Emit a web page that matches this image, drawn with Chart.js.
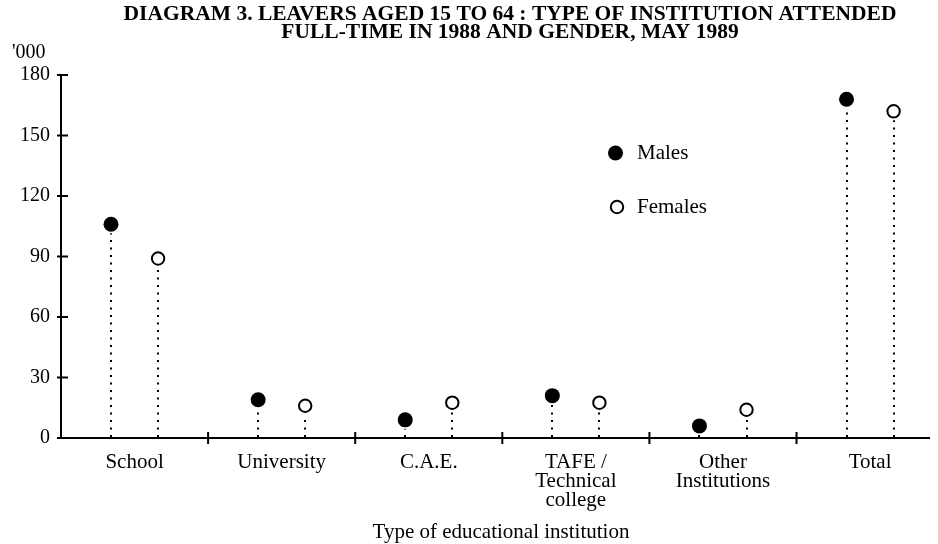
<!DOCTYPE html>
<html>
<head>
<meta charset="utf-8">
<script src="https://cdn.jsdelivr.net/npm/chart.js@4.4.1/dist/chart.umd.min.js"></script>
<style>
    html, body { margin: 0; padding: 0; background: #fff; }
    #wrap { width: 938px; height: 544px; }
</style>
</head>
<body>
<div id="wrap"><canvas id="leaversChart" width="938" height="544"></canvas></div>
<script>
// ============================ data ==============================
const categories = [
    ['School'],
    ['University'],
    ['C.A.E.'],
    ['TAFE /', 'Technical', 'college'],
    ['Other', 'Institutions'],
    ['Total']
];
const males = [106, 19, 9, 21, 6, 168];
const females = [89, 16, 17.5, 17.5, 14, 162];
const yTicks = [0, 30, 60, 90, 120, 150, 180];

// layout constants
const maleOffset = 0.34;
const femaleOffset = 0.66;
const xMax = 5.906;
const serif = '"Liberation Serif", "DejaVu Serif", serif';

// ============================ plugins ==============================
// dotted stems from each point down to zero
const stemPlugin = {
    id: 'stems',
    beforeDatasetsDraw(chart) {
        const ctx = chart.ctx;
        const x = chart.scales.x, y = chart.scales.y;
        const y0 = y.getPixelForValue(0);
        ctx.save();
        ctx.strokeStyle = '#000';
        ctx.lineWidth = 2;
        ctx.setLineDash([2, 5.5]);
        chart.data.datasets.forEach(ds => {
            ds.data.forEach(p => {
                const px = Math.round(x.getPixelForValue(p.x));
                const py = y.getPixelForValue(p.y) + 9;
                if (py >= y0) return;
                ctx.beginPath();
                ctx.moveTo(px, y0 - 1);
                ctx.lineTo(px, py);
                ctx.stroke();
            });
        });
        ctx.restore();
    }
};

// axis tick marks crossing the lines, title, legend and captions
const decorPlugin = {
    id: 'decor',
    afterDraw(chart) {
        const ctx = chart.ctx;
        const x = chart.scales.x, y = chart.scales.y;
        const area = chart.chartArea;
        const y0 = y.getPixelForValue(0);
        ctx.save();
        ctx.strokeStyle = '#000';
        ctx.lineWidth = 2;
        // y ticks
        yTicks.forEach(v => {
            const py = y.getPixelForValue(v);
            ctx.beginPath();
            ctx.moveTo(area.left - 4, py);
            ctx.lineTo(area.left + 7, py);
            ctx.stroke();
        });
        // category boundary ticks
        for (let i = 1; i < categories.length; i++) {
            const px = x.getPixelForValue(i);
            ctx.beginPath();
            ctx.moveTo(px, y0 - 6);
            ctx.lineTo(px, y0 + 6);
            ctx.stroke();
        }

        ctx.fillStyle = '#000';
        ctx.textBaseline = 'middle';
        // title
        ctx.textAlign = 'center';
        ctx.font = 'bold 21.5px ' + serif;
        ctx.fillText('DIAGRAM 3. LEAVERS AGED 15 TO 64 : TYPE OF INSTITUTION ATTENDED', 510, 14);
        ctx.fillText('FULL-TIME IN 1988 AND GENDER, MAY 1989', 510, 32);
        // unit
        ctx.textAlign = 'left';
        ctx.font = '20px ' + serif;
        ctx.fillText("'000", 12, 53);
        // x title
        ctx.textAlign = 'center';
        ctx.font = '21px ' + serif;
        ctx.fillText('Type of educational institution', 501, 532);

        // legend
        ctx.beginPath();
        ctx.arc(615.5, 153, 7.5, 0, Math.PI * 2);
        ctx.fill();
        ctx.beginPath();
        ctx.arc(617, 207, 6.2, 0, Math.PI * 2);
        ctx.fillStyle = '#fff';
        ctx.fill();
        ctx.stroke();
        ctx.fillStyle = '#000';
        ctx.textAlign = 'left';
        ctx.font = '21px ' + serif;
        ctx.fillText('Males', 637, 153);
        ctx.fillText('Females', 637, 207);
        ctx.restore();
    }
};

// ============================ chart ==============================
document.addEventListener('DOMContentLoaded', function () {
    const ctx = document.getElementById('leaversChart').getContext('2d');
    new Chart(ctx, {
        type: 'scatter',
        data: {
            datasets: [
                {
                    label: 'Males',
                    data: males.map((v, i) => ({x: i + maleOffset, y: v})),
                    backgroundColor: '#000',
                    borderColor: '#000',
                    borderWidth: 0,
                    pointRadius: 7.5
                },
                {
                    label: 'Females',
                    data: females.map((v, i) => ({x: i + femaleOffset, y: v})),
                    backgroundColor: '#fff',
                    borderColor: '#000',
                    borderWidth: 2,
                    pointRadius: 6.2
                }
            ]
        },
        options: {
            responsive: false,
            animation: false,
            layout: {padding: {top: 75, right: 0, bottom: 0, left: 0}},
            plugins: {
                legend: {display: false},
                title: {display: false},
                tooltip: {enabled: false}
            },
            scales: {
                x: {
                    type: 'linear',
                    min: 0,
                    max: xMax,
                    afterBuildTicks: scale => {
                        scale.ticks = categories.map((c, i) => ({value: i + 0.5}));
                    },
                    afterFit: scale => { scale.height = 106; },
                    grid: {display: false},
                    border: {display: true, color: '#000', width: 2},
                    ticks: {
                        autoSkip: false,
                        maxRotation: 0,
                        padding: 7,
                        color: '#000',
                        font: {family: serif, size: 21, lineHeight: '19px'},
                        callback: (v, i) => categories[i]
                    }
                },
                y: {
                    min: 0,
                    max: 180,
                    afterBuildTicks: scale => {
                        scale.ticks = yTicks.map(v => ({value: v}));
                    },
                    afterFit: scale => { scale.width = 61; },
                    grid: {display: false},
                    border: {display: true, color: '#000', width: 2},
                    ticks: {
                        padding: 3,
                        color: '#000',
                        font: {family: serif, size: 20}
                    }
                }
            }
        },
        plugins: [stemPlugin, decorPlugin]
    });
});
</script>
</body>
</html>
